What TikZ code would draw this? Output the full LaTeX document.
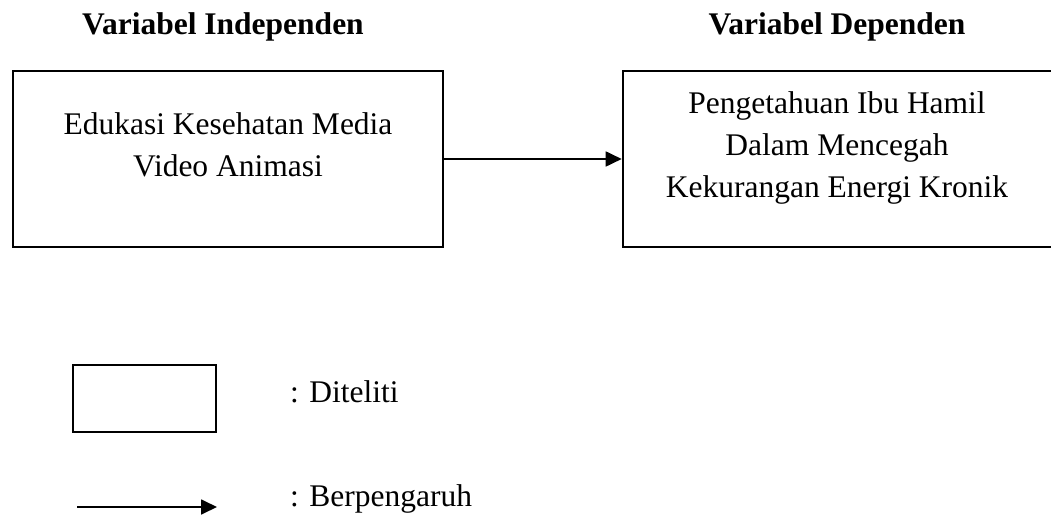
\documentclass[tikz,border=0pt]{standalone}
\usepackage{fontspec}
\setmainfont{Liberation Serif}
\usetikzlibrary{arrows.meta}
\begin{document}
\begin{tikzpicture}[x=1pt,y=1pt,
  frame/.style={draw=black, line width=2.6pt, minimum width=430pt, minimum height=176pt, inner sep=0pt},
  legbox/.style={draw=black, line width=2.6pt, minimum width=143pt, minimum height=67pt, inner sep=0pt},
  boxtext/.style={font=\fontsize{31.5}{42}\selectfont, align=center, inner sep=0pt},
  titletext/.style={font=\fontsize{31.5}{42}\selectfont\bfseries, inner sep=0pt},
  legtext/.style={font=\fontsize{31.5}{42}\selectfont, inner sep=0pt, anchor=base west},
  conn/.style={line width=1.8pt, -{Triangle[length=16pt,width=15pt]}}]
\useasboundingbox (0,0) rectangle (1051,514);
\clip (0,0) rectangle (1051,514);
% titles
\node[titletext, anchor=base] (ti1) at (223,479) {Variabel Independen};
\node[titletext, anchor=base] (ti2) at (837,479) {Variabel Dependen};
% boxes
\node[frame] (b1) at (228,355) {};
\node[frame] (b2) at (838,355) {};
\node[boxtext, anchor=base] (t1) at (228,337) {Edukasi Kesehatan Media\\Video Animasi};
\node[boxtext, anchor=base] (t2) at (837,316) {Pengetahuan Ibu Hamil\\Dalam Mencegah\\Kekurangan Energi Kronik};
\draw[conn] (b1.east) -- (b2.west);
% legend
\node[legbox] (lb) at (144.5,115.5) {};
\node[legtext] (l1) at (290,112) {: Diteliti};
\coordinate (la1) at (77,7);
\coordinate (la2) at (217,7);
\draw[conn] (la1) -- (la2);
\node[legtext] (l2) at (290,8) {: Berpengaruh};
\end{tikzpicture}
\end{document}
